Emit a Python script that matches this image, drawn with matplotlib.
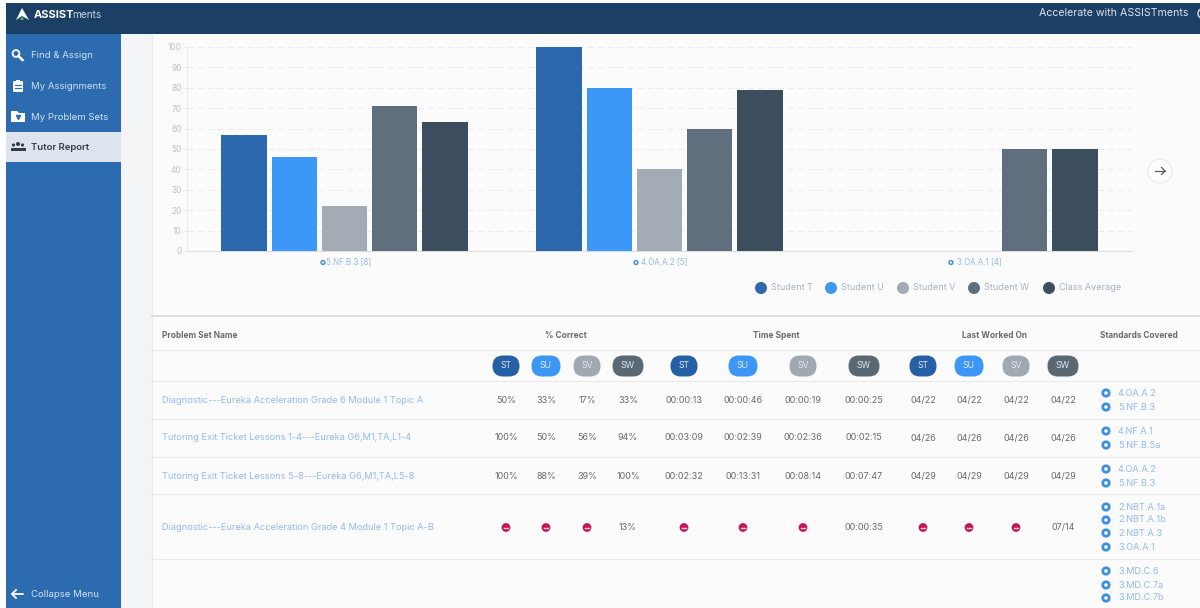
#!/usr/bin/env python3

import matplotlib
matplotlib.use("Agg")
import matplotlib.pyplot as plt
from matplotlib.patches import Circle, FancyBboxPatch, Polygon, Rectangle
import numpy as np

plt.rcParams["font.family"] = ["Inter", "DejaVu Sans"]

STANDARDS = ["5.NF.B.3 [8]", "4.OA.A.2 [5]", "3.OA.A.1 [4]"]
SERIES_NAMES = ["Student T", "Student U", "Student V", "Student W", "Class Average"]
SERIES_COLORS = ["#2b68ad", "#3d97f7", "#a3acb5", "#5f6f7e", "#3c4e5d"]
STUDENT_T = [57, 100, np.nan]
STUDENT_U = [46, 80, np.nan]
STUDENT_V = [22, 40, np.nan]
STUDENT_W = [71, 60, 50]
CLASS_AVERAGE = [63, 79, 50]

NAV_ITEMS = ["Find & Assign", "My Assignments", "My Problem Sets", "Tutor Report"]
PILLS = ["ST", "SU", "SV", "SW"]
GROUP_HEADERS = ["% Correct", "Time Spent", "Last Worked On"]

PROBLEM_SETS = [
    "Diagnostic---Eureka Acceleration Grade 6 Module 1 Topic A",
    "Tutoring Exit Ticket Lessons 1-4---Eureka G6,M1,TA,L1-4",
    "Tutoring Exit Ticket Lessons 5-8---Eureka G6,M1,TA,L5-8",
    "Diagnostic---Eureka Acceleration Grade 4 Module 1 Topic A-B",
]
# None = the red "no data" icon
PCT_CORRECT = [
    ["50%", "33%", "17%", "33%"],
    ["100%", "50%", "56%", "94%"],
    ["100%", "88%", "39%", "100%"],
    [None, None, None, "13%"],
]
TIME_SPENT = [
    ["00:00:13", "00:00:46", "00:00:19", "00:00:25"],
    ["00:03:09", "00:02:39", "00:02:36", "00:02:15"],
    ["00:02:32", "00:13:31", "00:08:14", "00:07:47"],
    [None, None, None, "00:00:35"],
]
LAST_WORKED = [
    ["04/22", "04/22", "04/22", "04/22"],
    ["04/26", "04/26", "04/26", "04/26"],
    ["04/29", "04/29", "04/29", "04/29"],
    [None, None, None, "07/14"],
]
STANDARDS_COVERED = [
    ["4.OA.A.2", "5.NF.B.3"],
    ["4.NF.A.1", "5.NF.B.5a"],
    ["4.OA.A.2", "5.NF.B.3"],
    ["2.NBT.A.1a", "2.NBT.A.1b", "2.NBT.A.3", "3.OA.A.1"],
    ["3.MD.C.6", "3.MD.C.7a", "3.MD.C.7b"],
]

# layout, in screenshot pixels
W, H = 1200, 608
NAV_Y = [55.5, 86.5, 117, 147.5]
COL_X = [[506, 546, 587, 628], [684, 743, 803, 864], [923, 969, 1016, 1063]]
GROUP_X = [566, 776, 994]
PILL_W = [27, 29, 27, 31]
ROW_Y = [400.5, 438, 476.5, 527.5]
STD_Y = [[393, 407], [431, 445], [469, 483], [507, 520, 533, 547], [571, 585, 598]]
RULE_Y = [350, 381, 419, 457, 494, 559]
LEGEND_X = [761, 831, 903, 974, 1049]
STD_TICK_ICON_X = [323, 636, 951]

TEXT = "#6a6a6a"
LINK = "#93bbec"
NAVY = "#1c3f66"
SIDE = "#2c6bb0"


def draw_pill(ax, x, y, w, color, label):
    ax.add_patch(FancyBboxPatch((x - w / 2, y - 10.5), w, 21,
        boxstyle="round,pad=0,rounding_size=10.5", fc=color, ec="none"))
    ax.text(x, y, label, color="#dfe6ee", fontsize=6.3, ha="center", va="center")


def draw_missing(ax, x, y):
    ax.add_patch(Circle((x, y), 4.4, fc="#c2185b", ec="none"))
    ax.plot([x - 2, x + 2], [y, y], color="#f3c6d8", lw=1)


def draw_std_icon(ax, x, y):
    ax.add_patch(Circle((x, y), 3.2, fc="#ffffff", ec="#3d8fe0", lw=2))


def draw_arrow(ax, x0, x1, y, head, color, lw):
    # shaft from x0 to the tip x1, open head
    sign = 1 if x0 < x1 else -1
    ax.plot([x0, x1], [y, y], color=color, lw=lw, solid_capstyle="round")
    ax.plot([x1 - sign * head, x1, x1 - sign * head], [y - head, y, y + head], color=color, lw=lw)


def draw_nav_icons(ax):
    # magnifier
    ax.add_patch(Circle((16, 53.5), 3.4, fc="none", ec="white", lw=1.3))
    ax.plot([18.5, 22.5], [56, 60], color="white", lw=1.8)
    # clipboard
    ax.add_patch(FancyBboxPatch((13, 81), 10, 11, boxstyle="round,pad=0,rounding_size=1", fc="white", ec="none"))
    ax.add_patch(Rectangle((16, 79.5), 4, 2.5, fc="white", ec="none"))
    ax.plot([15, 21], [85, 85], color=SIDE, lw=0.8)
    ax.plot([15, 21], [88, 88], color=SIDE, lw=0.8)
    # folder
    ax.add_patch(Polygon([[11, 111], [17, 111], [19, 113], [25, 113], [25, 122], [11, 122]], fc="white", ec="none"))
    ax.plot([18], [117], marker="v", ms=3, color=SIDE)
    # people
    for x, y, r in [(13.5, 145, 1.6), (18, 144, 2), (22.5, 145, 1.6)]:
        ax.add_patch(Circle((x, y), r, fc="#2f3d4c", ec="none"))
    ax.add_patch(Rectangle((10.5, 148), 15, 2.5, fc="#2f3d4c", ec="none"))


def draw_page(ax):
    ax.add_patch(Rectangle((121, 34), W - 121, H - 34, fc="#f3f4f6", ec="none"))
    ax.add_patch(Rectangle((152, 34), W - 152, H - 34, fc="#fbfbfb", ec="none"))
    ax.plot([152, 152], [34, H], color="#ebebeb", lw=0.8)

    # header bar
    ax.add_patch(Rectangle((6, 3), W - 6, 31, fc=NAVY, ec="none"))
    ax.add_patch(Polygon([[16, 20], [22, 8], [29, 20], [22, 16]], fc="white", ec="none"))
    ax.add_patch(Polygon([[20, 20], [22, 16.5], [24.5, 20]], fc="#4caf50", ec="none"))
    ax.text(34, 14.5, "ASSIST", color="white", fontsize=8, fontweight="bold", va="center")
    ax.text(72, 14.5, "ments", color="#c9d4e0", fontsize=7.3, va="center")
    ax.text(1039, 13.5, "Accelerate with ASSISTments", color="#dde4ec", fontsize=7.65, va="center")
    ax.add_patch(Circle((1203, 13.5), 5, fc="none", ec="#dde4ec", lw=1))

    # sidebar
    ax.add_patch(Rectangle((6, 34), 115, H - 34, fc=SIDE, ec="none"))
    ax.add_patch(Rectangle((6, 132), 115, 30, fc="#dde4ee", ec="none"))
    for y, item in zip(NAV_Y, NAV_ITEMS):
        active = item == "Tutor Report"
        ax.text(31, y, item, fontsize=6.9, va="center", color="#33404d" if active else "#d5e2f1",
            fontweight="semibold" if active else "normal")
    draw_nav_icons(ax)
    draw_arrow(ax, 23, 12, 594, 4, "white", 1.3)
    ax.text(31, 594.5, "Collapse Menu", fontsize=6.9, va="center", color="#d5e2f1")

    # arrow button next to the chart
    ax.add_patch(Circle((1160, 171), 12, fc="white", ec="#ececec", lw=1))
    draw_arrow(ax, 1155, 1165, 171, 3.5, "#555555", 0.9)

    # chart legend
    for x, name, color in zip(LEGEND_X, SERIES_NAMES, SERIES_COLORS):
        ax.add_patch(Circle((x, 288), 6, fc=color, ec="none"))
        ax.text(x + 10, 288, name, fontsize=6.5, color="#adb2b7", va="center")

    for x in STD_TICK_ICON_X:
        ax.add_patch(Circle((x, 262.5), 1.9, fc="white", ec="#4a90dc", lw=1.1))

    # table
    ax.plot([152, W], [316, 316], color="#d9d9d9", lw=1.2)
    for y in RULE_Y:
        ax.plot([152, W], [y, y], color="#e9e9e9", lw=0.8)

    ax.text(162, 335, "Problem Set Name", fontsize=6, fontweight="bold", color=TEXT, va="center")
    for x, header in zip(GROUP_X, GROUP_HEADERS):
        ax.text(x, 335, header, fontsize=6, fontweight="bold", color=TEXT, ha="center", va="center")
    ax.text(1139, 335, "Standards Covered", fontsize=5.9, fontweight="bold", color=TEXT, ha="center", va="center")

    pill_colors = ["#2560a5", "#3c96f5", "#a0a9b2", "#5a6874"]
    for col_x in COL_X:
        for x, label, width, color in zip(col_x, PILLS, PILL_W, pill_colors):
            draw_pill(ax, x, 366, width, color, label)

    for y, name in zip(ROW_Y, PROBLEM_SETS):
        ax.text(162, y, name, fontsize=6.65, color=LINK, va="center")

    for col_x, table in zip(COL_X, [PCT_CORRECT, TIME_SPENT, LAST_WORKED]):
        for y, row in zip(ROW_Y, table):
            for x, value in zip(col_x, row):
                if value is None:
                    draw_missing(ax, x, y)
                else:
                    ax.text(x, y, value, fontsize=6.5, color=TEXT, ha="center", va="center")

    for ys, names in zip(STD_Y, STANDARDS_COVERED):
        for y, name in zip(ys, names):
            draw_std_icon(ax, 1106, y)
            ax.text(1118, y, name, fontsize=6.6, color=LINK, va="center")


def draw_chart(fig):
    # axes box: x 187..1132, y 251..47 px
    ax = fig.add_axes([187 / W, 1 - 251 / H, 945 / W, 204 / H], zorder=2)
    ax.patch.set_alpha(0)

    x = np.arange(len(STANDARDS))
    series = [STUDENT_T, STUDENT_U, STUDENT_V, STUDENT_W, CLASS_AVERAGE]
    step = 0.159
    for i, (vals, color, name) in enumerate(zip(series, SERIES_COLORS, SERIES_NAMES)):
        ax.bar(x + (i - 2) * step, vals, width=0.145, color=color, label=name, zorder=3)

    ax.set_xlim(-0.5, 2.5)
    ax.set_ylim(0, 100)
    ax.set_yticks(range(0, 101, 10))
    ax.set_xticks(x)
    ax.set_xticklabels(["    " + s for s in STANDARDS])
    ax.tick_params(axis="y", labelsize=6, labelcolor="#c0c0c0", length=3, color="#ececec", pad=1, width=0.8)
    ax.tick_params(axis="x", labelsize=5.7, labelcolor=LINK, length=0, pad=7)
    for label in ax.get_xticklabels():
        label.set_y(0.018)
    ax.grid(axis="y", color="#ececec", lw=0.8, ls=(0, (6, 3)), zorder=0)
    for side in ["top", "right"]:
        ax.spines[side].set_visible(False)
    ax.spines["left"].set_color("#ececec")
    ax.spines["left"].set_linewidth(0.8)
    ax.spines["bottom"].set_color("#dedede")
    ax.spines["bottom"].set_linewidth(0.8)


def main():
    fig = plt.figure(figsize=(12, 6.08), dpi=100, facecolor="white")
    page = fig.add_axes([0, 0, 1, 1], zorder=1)
    page.set_xlim(0, W)
    page.set_ylim(H, 0)
    page.axis("off")
    draw_page(page)
    draw_chart(fig)
    fig.savefig("out.png", dpi=100)


if __name__ == "__main__":
    main()
